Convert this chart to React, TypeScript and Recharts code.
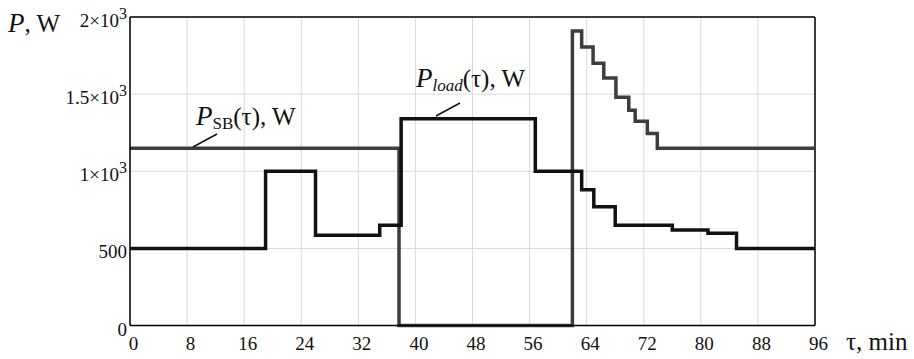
import { LineChart, Line, XAxis, YAxis, CartesianGrid, ReferenceLine } from "recharts";

// load power, step function (min, W)
const loadTime = [0, 19, 26, 35, 38, 56.8, 63.3, 65, 68, 76, 81, 85, 96];
const loadPower = [500, 1000, 585, 650, 1340, 1000, 880, 770, 650, 620, 598, 500, 500];

// storage battery power
const sbTime = [0, 37.7, 62, 63.3, 64.9, 66.4, 68.1, 69.9, 70.8, 72.5, 73.9, 96];
const sbPower = [1150, 0, 1910, 1805, 1700, 1605, 1480, 1395, 1325, 1245, 1150, 1150];

const xTicks = [0, 8, 16, 24, 32, 40, 48, 56, 64, 72, 80, 88, 96];
const yTicks = [0, 500, 1000, 1500, 2000];
const yTickBase = ["0", "500", "1×10", "1.5×10", "2×10"];
const yTickExp = ["", "", "3", "3", "3"];

const loadData = loadTime.map((t, i) => ({ t, p: loadPower[i] }));
const sbData = sbTime.map((t, i) => ({ t, p: sbPower[i] }));

const serif = "Liberation Serif, DejaVu Serif, serif";
const txt = { fontFamily: serif };

function YTick({ x, y, index }: any) {
  return (
    <text x={x} y={y + 10} textAnchor="end" style={txt} fontSize={19} fill="#111">
      <tspan>{yTickBase[index]}</tspan>
      {yTickExp[index] && (
        <tspan dy={-8} fontSize={16}>
          {yTickExp[index]}
        </tspan>
      )}
    </text>
  );
}

function XTick({ x, y, payload }: any) {
  return (
    <text x={x + 3.5} y={y + 24} textAnchor="middle" style={txt} fontSize={19} fill="#111">
      {payload.value}
    </text>
  );
}

export default function App() {
  return (
    <div style={{ position: "absolute", left: 0, top: 0, width: 914, height: 359, background: "#fff" }}>
      <LineChart
        width={914}
        height={359}
        margin={{ top: 17, right: 99, bottom: 3.4, left: 70 }}
      >
        <CartesianGrid stroke="#d9d9d9" strokeWidth={1} />
        <XAxis
          type="number"
          dataKey="t"
          domain={[0, 96]}
          ticks={xTicks}
          height={30}
          tickLine={false}
          tickSize={0}
          tickMargin={0}
          axisLine={{ stroke: "#000", strokeWidth: 1.5 }}
          tick={<XTick />}
          interval={0}
          allowDuplicatedCategory={false}
        />
        <YAxis
          type="number"
          domain={[0, 2000]}
          ticks={yTicks}
          width={60}
          tickLine={false}
          tickSize={0}
          tickMargin={3}
          axisLine={{ stroke: "#000", strokeWidth: 1.5 }}
          tick={<YTick />}
          interval={0}
        />
        <ReferenceLine y={2000} stroke="#000" strokeWidth={1.5} />
        <ReferenceLine x={96} stroke="#000" strokeWidth={1.5} />
        <Line
          data={sbData}
          dataKey="p"
          type="stepAfter"
          stroke="#3d3d3d"
          strokeWidth={3.5}
          strokeLinejoin="miter"
          dot={false}
          isAnimationActive={false}
        />
        <Line
          data={loadData}
          dataKey="p"
          type="stepAfter"
          stroke="#111"
          strokeWidth={3.5}
          strokeLinejoin="miter"
          dot={false}
          isAnimationActive={false}
        />
      </LineChart>
      <svg
        width={914}
        height={359}
        style={{ position: "absolute", left: 0, top: 0, pointerEvents: "none", fontFamily: serif }}
      >
        <text x={8} y={32} fontSize={25} fill="#111">
          <tspan fontStyle="italic" fontSize={27}>P</tspan>
          <tspan>, W</tspan>
        </text>
        <text x={846} y={350} fontSize={25} fill="#111">
          τ, min
        </text>
        <line x1={193} y1={147} x2={217} y2={134} stroke="#111" strokeWidth={1.5} />
        <text x={196} y={124.5} fontSize={25} fill="#111">
          <tspan fontStyle="italic" fontSize={27}>P</tspan>
          <tspan fontSize={17} dy={4}>SB</tspan>
          <tspan dy={-4}>(τ), W</tspan>
        </text>
        <line x1={436} y1={116} x2={460} y2={103} stroke="#111" strokeWidth={1.5} />
        <text x={416} y={87} fontSize={25} fill="#111">
          <tspan fontStyle="italic" fontSize={27}>P</tspan>
          <tspan fontStyle="italic" fontSize={17} dy={4}>load</tspan>
          <tspan dy={-4}>(τ), W</tspan>
        </text>
      </svg>
    </div>
  );
}
